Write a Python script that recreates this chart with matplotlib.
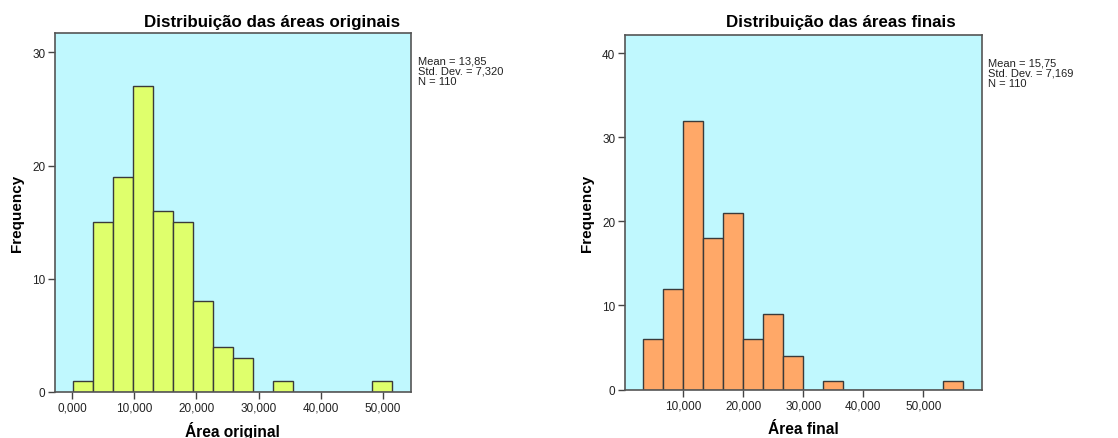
import matplotlib
matplotlib.use("Agg")
import matplotlib.pyplot as plt
import numpy as np

plt.rcParams['font.family'] = ['Liberation Sans', 'DejaVu Sans']

# ---- data ----
orig_counts = [1, 15, 19, 27, 16, 15, 8, 4, 3, 0, 1, 0, 0, 0, 0, 1]
orig_bin_start = 0.06
orig_bin_width = 3.22
final_counts = [6, 12, 32, 18, 21, 6, 9, 4, 0, 1, 0, 0, 0, 0, 0, 1]
final_bin_start = 3.33
final_bin_width = 3.333
orig_xticks = [0, 10, 20, 30, 40, 50]
orig_xticklabels = ["0,000", "10,000", "20,000", "30,000", "40,000", "50,000"]
final_xticks = [10, 20, 30, 40, 50]
final_xticklabels = ["10,000", "20,000", "30,000", "40,000", "50,000"]
orig_yticks = [0, 10, 20, 30]
final_yticks = [0, 10, 20, 30, 40]
orig_stats = "Mean = 13,85\nStd. Dev. = 7,320\nN = 110"
final_stats = "Mean = 15,75\nStd. Dev. = 7,169\nN = 110"
orig_title = "Distribuição das áreas originais"
final_title = "Distribuição das áreas finais"
orig_xlabel = "Área original"
final_xlabel = "Área final"
ylabel = "Frequency"

W, H = 1118, 439
fig = plt.figure(figsize=(W / 100, H / 100), dpi=100)
fig.patch.set_facecolor("white")

bg = "#C0F8FE"
edge = "#3a3a3a"

def px(x0, y0, x1, y1):
    return [x0 / W, 1 - y1 / H, (x1 - x0) / W, (y1 - y0) / H]

def draw(rect, counts, start, width, color, xlim, ylim, xticks, xtl, yticks):
    ax = fig.add_axes(rect)
    ax.set_facecolor(bg)
    edges = start + width * np.arange(len(counts))
    ax.bar(edges, counts, width=width, align="edge", color=color,
           edgecolor=edge, linewidth=1.0, zorder=2)
    ax.set_xlim(*xlim)
    ax.set_ylim(*ylim)
    ax.set_xticks(xticks)
    ax.set_xticklabels(xtl)
    ax.set_yticks(yticks)
    ax.tick_params(direction="out", length=5, width=1, color="#444444",
                   labelsize=8.5, labelcolor="#222222", pad=2)
    for s in ax.spines.values():
        s.set_color("#555555")
        s.set_linewidth(1.2)
    return ax

draw(px(55, 34, 411, 393), orig_counts, orig_bin_start, orig_bin_width,
     "#DFFF6C", (-2.79, 54.57), (0, 31.7), orig_xticks, orig_xticklabels, orig_yticks)
draw(px(625, 36, 982, 390.5), final_counts, final_bin_start, final_bin_width,
     "#FFA868", (0.28, 59.8), (0, 42.2), final_xticks, final_xticklabels, final_yticks)

def ftext(x, y, s, **kw):
    fig.text(x / W, 1 - y / H, s, **kw)

ftext(272, 22, orig_title, ha="center", va="center", fontsize=12.2, fontweight="bold")
ftext(841, 22, final_title, ha="center", va="center", fontsize=12.2, fontweight="bold")
ftext(17, 213, ylabel, ha="center", va="center", rotation=90, fontsize=11, fontweight="bold")
ftext(587, 213, ylabel, ha="center", va="center", rotation=90, fontsize=11, fontweight="bold")
ftext(232, 431, orig_xlabel, ha="center", va="center", fontsize=11.2, fontweight="bold")
ftext(803, 430, final_xlabel, ha="center", va="center", fontsize=11.2, fontweight="bold")
ftext(418, 56, orig_stats, ha="left", va="top", fontsize=8, linespacing=1.05, color="#222222")
ftext(988, 58, final_stats, ha="left", va="top", fontsize=8, linespacing=1.05, color="#222222")

fig.savefig("out.png", dpi=100)
